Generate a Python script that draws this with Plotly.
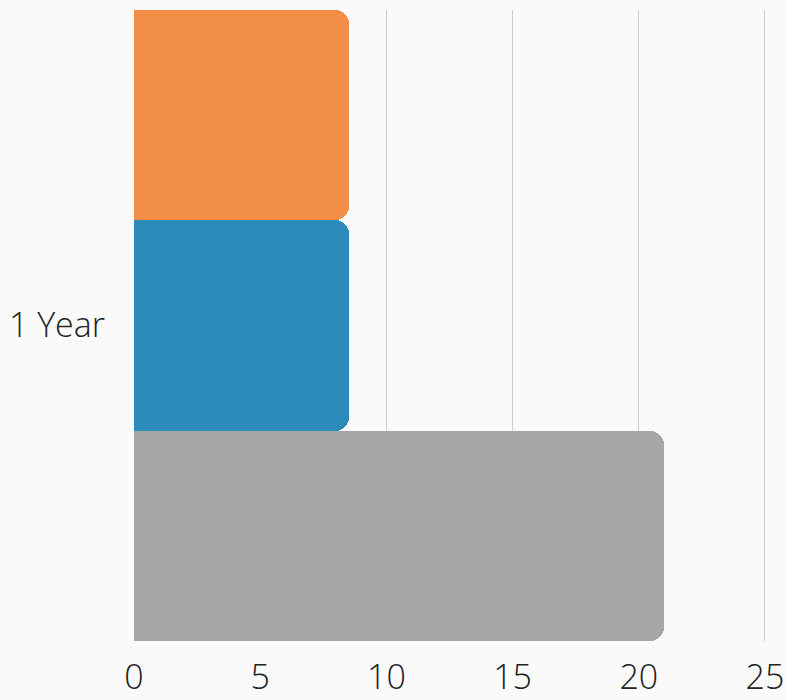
import plotly.graph_objects as go

categories = ["1 Year"]
series_names = ["Gray", "Blue", "Orange"]
series_values = [[21], [8.5], [8.5]]
series_colors = ["#A6A6A6", "#2B8BB9", "#F28E45"]
x_ticks = [0, 5, 10, 15, 20, 25]

fig = go.Figure()
for name, vals, col in zip(series_names, series_values, series_colors):
    fig.add_trace(go.Bar(y=categories, x=vals, name=name, orientation="h",
                         marker=dict(color=col, line=dict(width=0))))

fig.update_layout(
    width=786, height=700,
    margin=dict(l=134, r=20, t=10, b=59),
    paper_bgcolor="#FAFAFA", plot_bgcolor="#FAFAFA",
    barmode="group", bargap=0, bargroupgap=0,
    barcornerradius=14,
    showlegend=False,
    font=dict(family="Open Sans", size=34, color="#222222", weight=300),
    xaxis=dict(range=[0, 25.04], tickvals=x_ticks, showgrid=True, gridcolor="#CCCCCC",
               gridwidth=1, zeroline=False, showline=False, ticks="",
               ticklabelstandoff=13, automargin=False),
    yaxis=dict(range=[-0.5, 0.5], showgrid=False, zeroline=False, showline=False,
               ticks="", ticklabelstandoff=28, automargin=False),
)
fig.write_html("out.html")
